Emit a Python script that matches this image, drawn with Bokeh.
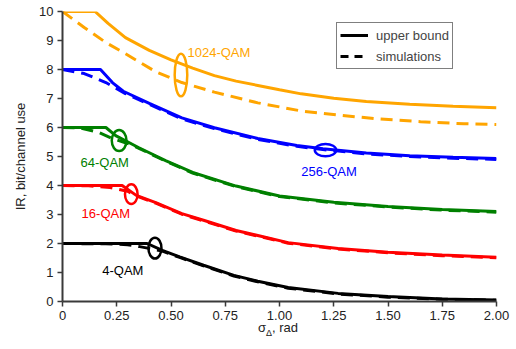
from bokeh.plotting import figure
from bokeh.models import Range1d, Label, Legend, LegendItem, CustomJSTickFormatter, FixedTicker, Div
from bokeh.layouts import column
from bokeh.embed import file_html
from bokeh.resources import INLINE

# ---- data ----
x_1024_ub = [0, 0.15, 0.21, 0.29, 0.4, 0.5, 0.6, 0.7, 0.8, 0.9, 1.0, 1.1, 1.25, 1.4, 1.6, 1.8, 2.0]
y_1024_ub = [10, 10, 9.59, 9.1, 8.66, 8.33, 8.05, 7.79, 7.6, 7.45, 7.3, 7.16, 7.01, 6.9, 6.8, 6.73, 6.68]
x_1024_sim = [0, 0.1, 0.2, 0.3, 0.43, 0.55, 0.7, 0.9, 1.1, 1.27, 1.45, 1.65, 1.85, 2.0]
y_1024_sim = [10, 9.45, 8.93, 8.5, 7.92, 7.55, 7.22, 6.85, 6.57, 6.43, 6.3, 6.2, 6.13, 6.1]

x_256_ub = [0, 0.175, 0.23, 0.28, 0.4, 0.55, 0.7, 0.9, 1.08, 1.2, 1.4, 1.6, 1.8, 2.0]
y_256_ub = [8, 8, 7.55, 7.25, 6.83, 6.33, 5.99, 5.62, 5.38, 5.27, 5.12, 5.03, 4.97, 4.93]
x_256_sim = [0, 0.1, 0.2, 0.29, 0.4, 0.55, 0.7, 0.9, 1.08, 1.2, 1.4, 1.6, 1.8, 2.0]
y_256_sim = [8, 7.86, 7.55, 7.17, 6.8, 6.3, 5.96, 5.59, 5.35, 5.24, 5.09, 5.0, 4.94, 4.9]

x_64_ub = [0, 0.2, 0.245, 0.35, 0.475, 0.6, 0.8, 1.0, 1.25, 1.5, 1.75, 2.0]
y_64_ub = [6, 6, 5.72, 5.31, 4.86, 4.45, 3.98, 3.64, 3.42, 3.28, 3.17, 3.1]
x_64_sim = [0, 0.08, 0.166, 0.23, 0.3, 0.35, 0.475, 0.6, 0.8, 1.0, 1.25, 1.5, 1.75, 2.0]
y_64_sim = [6, 5.99, 5.83, 5.62, 5.45, 5.29, 4.84, 4.43, 3.96, 3.62, 3.4, 3.26, 3.15, 3.08]

x_16_ub = [0, 0.275, 0.34, 0.43, 0.55, 0.65, 0.8, 1.04, 1.27, 1.5, 1.75, 2.0]
y_16_ub = [4, 4, 3.66, 3.41, 3.03, 2.8, 2.45, 2.03, 1.83, 1.7, 1.6, 1.53]
x_16_sim = [0, 0.12, 0.22, 0.3, 0.34, 0.43, 0.55, 0.65, 0.8, 1.04, 1.27, 1.5, 1.75, 2.0]
y_16_sim = [4, 3.99, 3.93, 3.8, 3.64, 3.39, 3.01, 2.78, 2.43, 2.01, 1.81, 1.68, 1.58, 1.51]

x_4_ub = [0, 0.39, 0.46, 0.54, 0.65, 0.79, 0.9, 1.04, 1.27, 1.5, 1.75, 2.0]
y_4_ub = [2, 2, 1.76, 1.54, 1.25, 0.9, 0.7, 0.48, 0.28, 0.17, 0.09, 0.05]
x_4_sim = [0, 0.2, 0.3, 0.35, 0.42, 0.46, 0.54, 0.65, 0.79, 0.9, 1.04, 1.27, 1.5, 1.75, 2.0]
y_4_sim = [2, 1.99, 1.96, 1.9, 1.8, 1.74, 1.52, 1.23, 0.88, 0.68, 0.46, 0.26, 0.15, 0.08, 0.04]

series_names = ["1024-QAM", "256-QAM", "64-QAM", "16-QAM", "4-QAM"]
series_colors = ["#FFA500", "#0000FF", "#008000", "#FF0000", "#000000"]
label_x = [0.576, 1.1, 0.083, 0.088, 0.183]
label_y = [8.6, 4.5, 4.8, 3.03, 1.07]
ell_x = [0.546, 1.212, 0.261, 0.317, 0.426]
ell_y = [7.81, 5.22, 5.55, 3.70, 1.84]
ell_w = [0.058, 0.099, 0.068, 0.058, 0.06]
ell_h = [1.47, 0.43, 0.72, 0.68, 0.72]

x_ticks = [0, 0.25, 0.5, 0.75, 1.0, 1.25, 1.5, 1.75, 2.0]
y_ticks = list(range(0, 11))

FONT = "Liberation Sans"
AX_COLOR = "#3a3a3a"

fig = figure(width=516, height=326, output_backend="svg", toolbar_location=None,
             x_range=Range1d(0, 2), y_range=Range1d(0, 10),
             min_border_left=62, min_border_right=20, min_border_top=11, min_border_bottom=25)
fig.outline_line_color = None
fig.grid.visible = False
fig.background_fill_color = "white"

ub = [(x_1024_ub, y_1024_ub), (x_256_ub, y_256_ub), (x_64_ub, y_64_ub), (x_16_ub, y_16_ub), (x_4_ub, y_4_ub)]
sim = [(x_1024_sim, y_1024_sim), (x_256_sim, y_256_sim), (x_64_sim, y_64_sim), (x_16_sim, y_16_sim), (x_4_sim, y_4_sim)]

for (xs, ys), c in zip(sim, series_colors):
    fig.line(xs, ys, line_color=c, line_width=3, line_dash="12 7")
for (xs, ys), c in zip(ub, series_colors):
    fig.line(xs, ys, line_color=c, line_width=3)

fig.ellipse(x=ell_x, y=ell_y, width=ell_w, height=ell_h, fill_color=None,
            line_color=series_colors, line_width=2.5)

for name, c, lx, ly in zip(series_names, series_colors, label_x, label_y):
    fig.add_layout(Label(x=lx, y=ly, text=name, text_color=c, text_font=FONT,
                         text_font_size="13px", text_baseline="middle", text_align="left"))

# legend with off-screen dummy renderers
r_ub = fig.line([-5, -4], [-5, -5], line_color="black", line_width=3)
r_sim = fig.line([-5, -4], [-5, -5], line_color="black", line_width=3, line_dash="8 6")
legend = Legend(items=[LegendItem(label="upper bound", renderers=[r_ub]),
                       LegendItem(label="simulations", renderers=[r_sim])],
                location=(274, 232), border_line_color="black", border_line_width=1,
                label_text_font=FONT, label_text_font_size="13px", glyph_width=28,
                glyph_height=18, label_height=18, label_standoff=8, padding=3, spacing=3,
                margin=0, background_fill_alpha=1.0)
fig.add_layout(legend)

# axes
fig.xaxis.ticker = FixedTicker(ticks=x_ticks)
fig.yaxis.ticker = FixedTicker(ticks=y_ticks)
fig.xaxis.formatter = CustomJSTickFormatter(code="return tick == 0 ? '0' : tick.toFixed(2);")
for ax in (fig.xaxis[0], fig.yaxis[0]):
    ax.axis_line_color = AX_COLOR
    ax.axis_line_width = 2
    ax.major_tick_line_color = AX_COLOR
    ax.major_tick_line_width = 1.5
    ax.major_tick_out = 5
    ax.major_tick_in = 0
    ax.minor_tick_line_color = None
    ax.major_label_text_font = FONT
    ax.major_label_text_font_size = "13px"
    ax.major_label_text_color = "#222222"
    ax.major_label_standoff = 4

fig.yaxis.axis_label = "IR, bit/channel use"
fig.yaxis.axis_label_text_font = FONT
fig.yaxis.axis_label_text_font_size = "13px"
fig.yaxis.axis_label_text_font_style = "normal"
fig.yaxis.axis_label_text_color = "#222222"
fig.yaxis.axis_label_standoff = 8

# x axis label  sigma_Delta, rad (with subscript)
xlabel = Div(text="σ<sub style='font-size:9px'>Δ</sub>, rad", width=120, height=18,
             margin=(-6, 0, 0, 258),
             styles={"font-family": FONT, "font-size": "13px", "color": "#222222",
                     "line-height": "16px"})

p = column(fig, xlabel, spacing=0)

open("out.html", "w").write(file_html(p, INLINE))
